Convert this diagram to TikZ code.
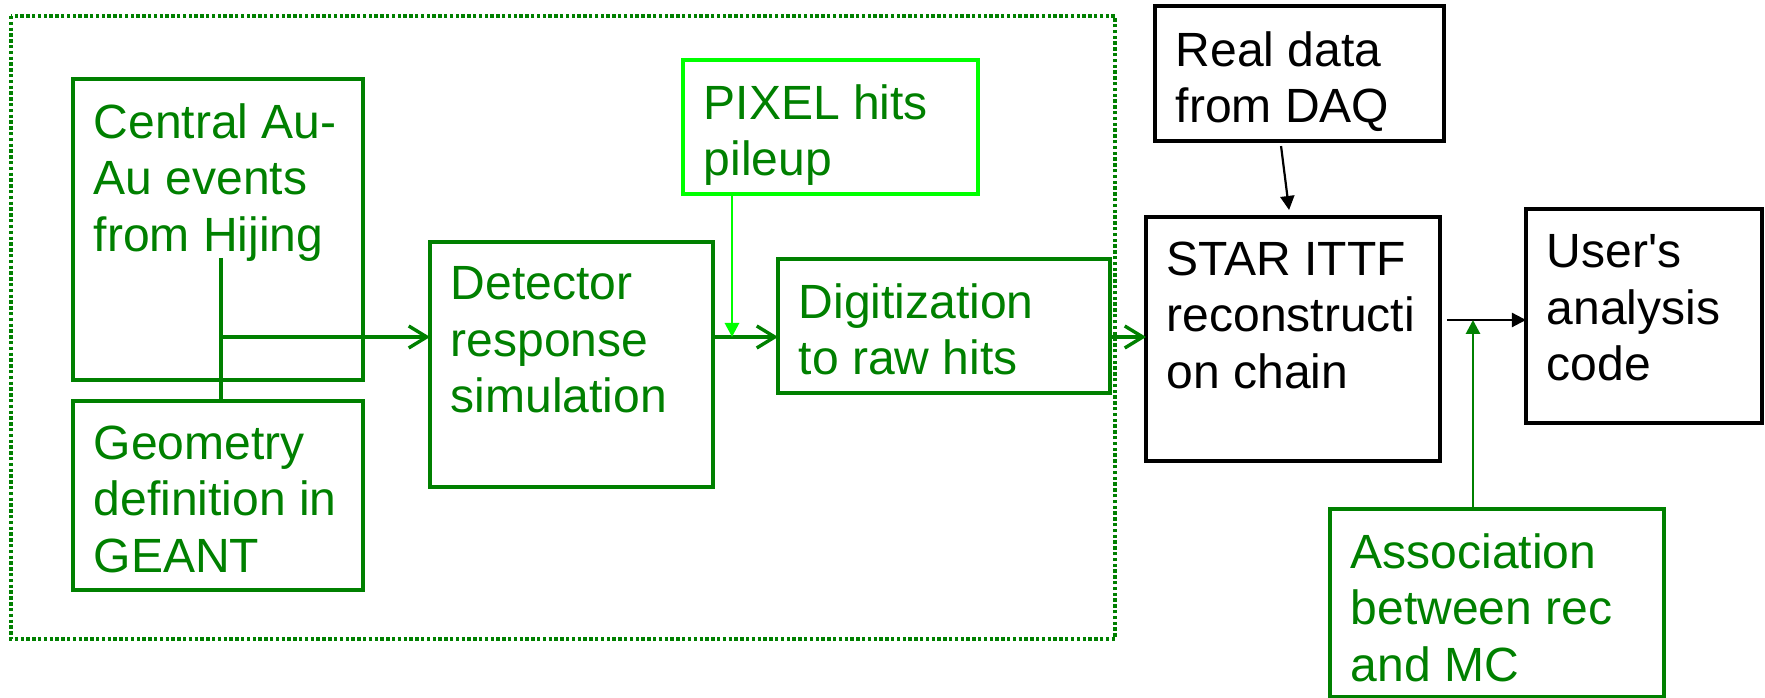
\documentclass[tikz,border=0pt]{standalone}
\usepackage{fontspec}
\setmainfont{Liberation Sans}
\usetikzlibrary{arrows.meta,positioning}

\definecolor{dkgreen}{RGB}{0,128,0}
\definecolor{ltgreen}{RGB}{0,255,0}

\tikzset{
  blk/.style={draw, line width=0.036cm, anchor=north west, outer sep=0pt, inner sep=0pt},
  gblk/.style={blk, draw=dkgreen},
  txt/.style={inner sep=0pt, align=left, font=\fontsize{13.66pt}{16.06pt}\selectfont},
  gtxt/.style={txt, text=dkgreen},
  flow/.style={dkgreen, line width=0.034cm, -{Straight Barb[length=0.18cm,width=0.22cm]}},
  feed/.style={line width=0.022cm, -{Triangle[length=0.14cm,width=0.14cm]}}
}

\begin{document}
\begin{tikzpicture}[x=0.01cm,y=-0.01cm]
  \useasboundingbox (0,0) rectangle (1765,698);

  % simulation part
  \draw[dkgreen, line width=0.036cm, dash pattern=on 0.034cm off 0.024cm] (11,16) rectangle (1115,639);

  \node[gblk, minimum width=2.90cm, minimum height=3.01cm] (central) at (73,79) {};
  \node[gtxt, below right=0.24cm and 0.2cm of central.north west] (centraltxt) {Central Au-\\Au events\\from Hijing};

  \node[gblk, minimum width=2.90cm, minimum height=1.89cm] (geant) at (73,401) {};
  \node[gtxt, below right=0.24cm and 0.2cm of geant.north west] (geanttxt) {Geometry\\definition in\\GEANT};

  \node[gblk, minimum width=2.83cm, minimum height=2.45cm] (detector) at (430,242) {};
  \node[gtxt, below right=0.24cm and 0.2cm of detector.north west] (detectortxt) {Detector\\response\\simulation};

  \node[blk, draw=ltgreen, minimum width=2.95cm, minimum height=1.34cm] (pixel) at (683,60) {};
  \node[gtxt, below right=0.24cm and 0.2cm of pixel.north west] (pixeltxt) {PIXEL hits\\pileup};

  \node[gblk, minimum width=3.32cm, minimum height=1.34cm] (digit) at (778,259) {};
  \node[gtxt, below right=0.24cm and 0.2cm of digit.north west] (digittxt) {Digitization\\to raw hits};

  % reconstruction part
  \node[blk, minimum width=2.89cm, minimum height=1.35cm] (daq) at (1155,6) {};
  \node[txt, below right=0.25cm and 0.2cm of daq.north west] (daqtxt) {Real data\\from DAQ};

  \node[blk, minimum width=2.94cm, minimum height=2.44cm] (ittf) at (1146,217) {};
  \node[txt, below right=0.24cm and 0.2cm of ittf.north west] (ittftxt) {STAR ITTF\\reconstructi\\on chain};

  \node[blk, minimum width=2.36cm, minimum height=2.14cm] (user) at (1526,209) {};
  \node[txt, below right=0.25cm and 0.2cm of user.north west] (usertxt) {User\textquotesingle s\\analysis\\code};

  \node[gblk, minimum width=3.34cm, minimum height=1.88cm] (assoc) at (1330,509) {};
  \node[gtxt, below right=0.24cm and 0.2cm of assoc.north west] (assoctxt) {Association\\between rec\\and MC};

  % connectors
  \coordinate (hijing) at (221,258);
  \coordinate (join) at (221,337);
  \coordinate (pileup) at (732,337);
  \coordinate (merge) at (1473,320);

  \draw[dkgreen, line width=0.034cm] (hijing) -- (hijing |- geant.north);
  \draw[flow] (join) -- (join -| detector.west);
  \draw[flow] (join -| detector.east) -- (join -| digit.west);
  \draw[flow] (join -| digit.east) -- (join -| ittf.west);
  \draw[feed, ltgreen, line width=0.028cm] (pileup |- pixel.south) -- (pileup);
  \draw[feed] ([xshift=-0.185cm, yshift=-0.05cm]daq.south) -- ([xshift=-0.04cm, yshift=0.07cm]ittf.north);
  \draw[feed, shorten <=0.07cm] (merge -| ittf.east) -- (merge -| user.west);
  \draw[feed, dkgreen, line width=0.028cm] (merge |- assoc.north) -- (merge);
\end{tikzpicture}
\end{document}
